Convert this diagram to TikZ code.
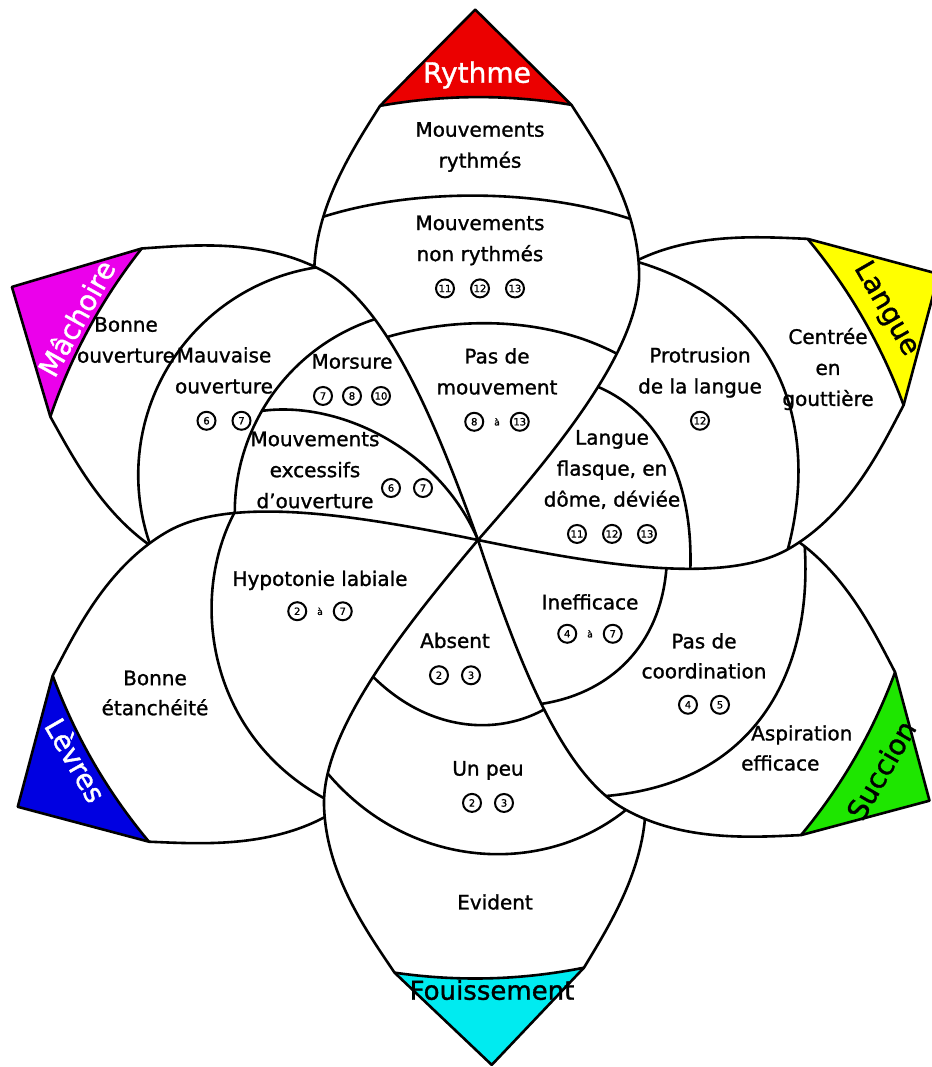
\documentclass[tikz,border=0pt]{standalone}
\usepackage{fontspec}
\setmainfont{DejaVu Sans}[RawFeature={embolden=1.2}]
\definecolor{cRythme}{RGB}{235,0,0}
\definecolor{cMach}{RGB}{235,0,235}
\definecolor{cLangue}{RGB}{255,255,0}
\definecolor{cLevres}{RGB}{0,0,225}
\definecolor{cSuccion}{RGB}{30,230,0}
\definecolor{cFouis}{RGB}{0,235,240}
\newcommand\circnum[1]{\tikz[baseline=(cc.base)]\node[cnumstyle] (cc) {#1};}
\newcommand\cgap{\hspace{15pt}}
\newcommand\cato{\hspace{10pt}{\fontsize{9}{9}\selectfont à}\hspace{10pt}}
\tikzset{
  pf/.style 2 args={shift={(478,540)},rotate=#1,scale=#2},
  petalp/.style={insert path={(0,0) .. controls (90,80) and (190,163) .. (265,163) .. controls (335,163) and (395,122) .. (436,96) -- (532,0) -- (436,-96) .. controls (395,-122) and (335,-163) .. (265,-163) .. controls (190,-163) and (90,-80) .. (0,0) -- cycle}},
  tipp/.style={insert path={(436,96) .. controls (447,32) and (447,-32) .. (436,-96) -- (532,0) -- cycle}},
  basep/.style={insert path={(436,96) .. controls (447,32) and (447,-32) .. (436,-96)}},
  ln/.style={line width=2.6pt,line join=round},
  cnumstyle/.style={circle,draw,line width=2pt,inner sep=0pt,minimum size=18pt,font=\fontsize{10}{10}\selectfont},
  lab/.style={align=center,font=\fontsize{20}{31}\selectfont,inner sep=0pt},
  tiplab/.style={font=\fontsize{28}{28}\selectfont,inner sep=0pt},
}
% #1 angle, #2 scale, #3 angle of covering neighbour, #4 its scale, #5 colour, #6 dividers
\newcommand\drawpetal[6]{%
\begin{scope}[pf={#3}{#4},even odd rule]
  \clip (-3000,-3000) rectangle (3000,3000) [petalp];
  \begin{scope}[reset cm,nonzero rule]
    \begin{scope}[pf={#1}{#2}]
      \clip[petalp];
      \fill[#5,tipp];
      \draw[ln,basep];
      \begin{scope}[reset cm]
        #6
      \end{scope}
    \end{scope}
    \draw[ln,pf={#1}{#2},petalp];
  \end{scope}
\end{scope}}
\begin{document}
\begin{tikzpicture}[x=1pt,y=-1pt]
\fill[white] (0,0) rectangle (931,1067);
\useasboundingbox (0,0) rectangle (931,1067);
% Rythme
\drawpetal{90.3}{0.997}{151.5}{0.997}{cRythme}{%
  \draw[ln] (300,225) .. controls (400,185) and (555,185) .. (660,230);
  \draw[ln] (330,360) .. controls (420,312) and (560,305) .. (650,375);}
% Machoire
\drawpetal{151.5}{0.997}{210.1}{1.0}{cMach}{%
  \draw[ln] (319,267) arc[start angle=262,end angle=155,radius=210];
  \draw[ln] (388.7,315.2) arc[start angle=256,end angle=170,radius=203];
  \draw[ln] (261,411) .. controls (340,400) and (440,450) .. (478,540);}
% Levres
\drawpetal{210.1}{1.0}{271.5}{0.987}{cLevres}{%
  \draw[ln] (245,495) .. controls (180,590) and (205,760) .. (362,815);}
% Fouissement
\drawpetal{271.5}{0.987}{330}{0.98}{cFouis}{%
  \draw[ln] (310,750) .. controls (400,885) and (580,885) .. (662,772);
  \draw[ln] (350,650) .. controls (420,745) and (520,740) .. (570,690);}
% Succion
\drawpetal{330}{0.98}{30}{1.0}{cSuccion}{%
  \draw[ln] (802,520) .. controls (820,650) and (770,790) .. (590,797);
  \draw[ln] (667,545) .. controls (670,650) and (600,705) .. (515,706);}
% Langue
\drawpetal{30}{1.0}{90.3}{0.997}{cLangue}{%
  \draw[ln] (610,255) .. controls (780,290) and (830,430) .. (780,575);
  \draw[ln] (570,378) .. controls (650,395) and (700,470) .. (689,592);}
% tip labels
\node[tiplab,text=white] (tR) at (477,75) {Rythme};
\node[tiplab,text=white,rotate=61] (tM) at (76,318) {Mâchoire};
\node[tiplab,rotate=-60] (tL) at (886,309) {Langue};
\node[tiplab,text=white,rotate=-60] (tV) at (76,760) {Lèvres};
\node[tiplab,rotate=60] (tS) at (881,770) {Succion};
\node[tiplab,font=\fontsize{26}{26}\selectfont] (tF) at (492,990) {Fouissement};
% Rythme labels
\node[lab] (r1) at (480,147) {Mouvements\\rythmés};
\node[lab] (r2) at (480,257) {Mouvements\\non rythmés\\\circnum{11}\cgap\circnum{12}\cgap\circnum{13}};
\node[lab] (r3) at (497,390) {Pas de\\mouvement\\\circnum{8}\cato\circnum{13}};
% Machoire labels
\node[lab] (m1) at (126,340) {Bonne\\ouverture};
\node[lab] (m2) at (224,389) {Mauvaise\\ouverture\\\circnum{6}\cgap\circnum{7}};
\node[lab] (m3) at (352,380) {Morsure\\\circnum{7}\hspace{9pt}\circnum{8}\hspace{9pt}\circnum{10}};
\node[lab] (m4) at (315,470) {Mouvements\\excessifs\\d'ouverture};
\node[lab] (m5) at (407,488) {\circnum{6}\hspace{12pt}\circnum{7}};
% Levres labels
\node[lab,font=\fontsize{20}{30}\selectfont] (v1) at (155,693) {Bonne\\étanchéité};
\node[lab,font=\fontsize{20}{29}\selectfont] (v2) at (320,596) {Hypotonie labiale\\\circnum{2}\cato\circnum{7}};
% Fouissement labels
\node[lab] (f1) at (455,659) {Absent\\\circnum{2}\hspace{12pt}\circnum{3}};
\node[lab] (f2) at (488,787) {Un peu\\\circnum{2}\hspace{12pt}\circnum{3}};
\node[lab] (f3) at (495,902) {Evident};
% Succion labels
\node[lab,font=\fontsize{20}{30}\selectfont] (s1) at (704,674) {Pas de\\coordination\\\circnum{4}\hspace{12pt}\circnum{5}};
\node[lab,font=\fontsize{20}{28}\selectfont] (s2) at (590,619) {Inefficace\\\circnum{4}\cato\circnum{7}};
\node[lab,align=left,anchor=west,font=\fontsize{20}{30}\selectfont] (s3) at (741,748) {\hspace{10pt}Aspiration\\efficace};
% Langue labels
\node[lab] (l1) at (828,369) {Centrée\\en\\gouttière};
\node[lab] (l2) at (700,389) {Protrusion\\de la langue\\\circnum{12}};
\node[lab] (l3) at (612,487) {Langue\\flasque, en\\dôme, déviée\\\circnum{11}\cgap\circnum{12}\cgap\circnum{13}};
\end{tikzpicture}
\end{document}
